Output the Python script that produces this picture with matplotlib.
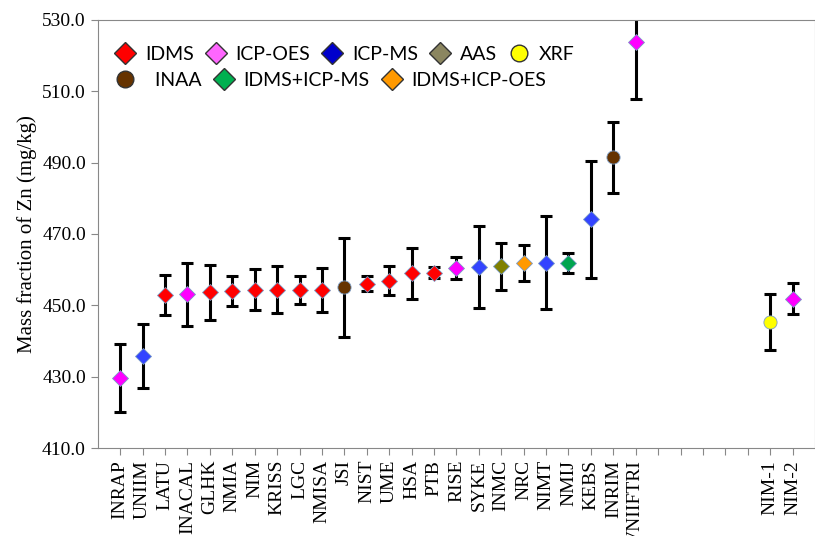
import numpy as np
import matplotlib.pyplot as plt
from matplotlib.lines import Line2D

plt.rcParams['font.family'] = ['Liberation Serif', 'DejaVu Serif']

# categories (blank entries are the empty slots before the NIM results)
labels = ['INRAP', 'UNIIM', 'LATU', 'INACAL', 'GLHK', 'NMIA', 'NIM', 'KRISS', 'LGC',
          'NMISA', 'JSI', 'NIST', 'UME', 'HSA', 'PTB', 'RISE', 'SYKE', 'INMC', 'NRC',
          'NIMT', 'NMIJ', 'KEBS', 'INRIM', 'VNIIFTRI', '', '', '', '', '', 'NIM-1', 'NIM-2']
values = [429.7, 435.9, 452.9, 453.1, 453.6, 454.0, 454.4, 454.4, 454.4,
          454.4, 455.0, 456.1, 456.9, 459.0, 459.2, 460.4, 460.8, 460.9, 461.8,
          461.9, 461.9, 474.1, 491.5, 523.8, np.nan, np.nan, np.nan, np.nan, np.nan, 445.4, 451.9]
uncert = [9.6, 9.0, 5.6, 8.8, 7.8, 4.2, 5.7, 6.6, 3.9,
          6.2, 14.0, 2.0, 4.0, 7.1, 1.6, 3.1, 11.5, 6.5, 5.0,
          13.0, 2.9, 16.3, 10.0, 15.9, np.nan, np.nan, np.nan, np.nan, np.nan, 7.8, 4.4]
methods = ['ICP-OES', 'ICP-MS', 'IDMS', 'ICP-OES', 'IDMS', 'IDMS', 'IDMS', 'IDMS', 'IDMS',
           'IDMS', 'INAA', 'IDMS', 'IDMS', 'IDMS', 'IDMS', 'ICP-OES', 'ICP-MS', 'AAS', 'IDMS+ICP-OES',
           'ICP-MS', 'IDMS+ICP-MS', 'ICP-MS', 'INAA', 'ICP-OES', '', '', '', '', '', 'XRF', 'ICP-OES']

# method -> (marker, plot colour, legend colour)
styles = {
    'IDMS': ('D', '#FF0000', '#FF0000'),
    'ICP-OES': ('D', '#FF00FF', '#FF66FF'),
    'ICP-MS': ('D', '#3344FF', '#0000CC'),
    'AAS': ('D', '#808000', '#8B8660'),
    'XRF': ('o', '#FFFF00', '#FFFF00'),
    'INAA': ('o', '#663300', '#663300'),
    'IDMS+ICP-MS': ('D', '#00A550', '#00B050'),
    'IDMS+ICP-OES': ('D', '#FF9900', '#FF9900'),
}

fig, ax = plt.subplots(figsize=(8.15, 5.36), dpi=100)
fig.subplots_adjust(left=0.12, right=1.0, top=0.963, bottom=0.164)

x = np.arange(1, len(labels) + 1)
for xi, v, u, m in zip(x, values, uncert, methods):
    if not m:
        continue
    mk, col, _ = styles[m]
    ax.errorbar(xi, v, yerr=u, fmt='none', ecolor='black', elinewidth=2.2,
                capsize=4, capthick=2.2, zorder=2)
    ax.plot(xi, v, marker=mk, color=col, markersize=9.5 if mk == 'o' else 7.8,
            markeredgecolor='#7a9cc6', markeredgewidth=0.6, linestyle='none', zorder=3)

ax.set_xlim(0, 32)
ax.set_ylim(410, 530)
ax.set_yticks(np.arange(410, 531, 20))
ax.set_yticklabels(['%.1f' % t for t in np.arange(410, 531, 20)], fontsize=14)
ax.set_xticks(x)
ax.set_xticklabels(labels, rotation=90, fontsize=14)
ax.tick_params(axis='both', color='#888888', length=5)
ax.set_ylabel('Mass fraction of Zn (mg/kg)', fontsize=15)
for s in ax.spines.values():
    s.set_color('#888888')

def handle(m):
    mk, _, lc = styles[m]
    return Line2D([], [], marker=mk, color=lc, markeredgecolor='#333333',
                  markeredgewidth=1.0, markersize=12 if mk == 'o' else 11, linestyle='none')

row1 = ['IDMS', 'ICP-OES', 'ICP-MS', 'AAS', 'XRF']
row2 = ['INAA', 'IDMS+ICP-MS', 'IDMS+ICP-OES']
leg_font = {'family': 'Lato', 'size': 14}
leg1 = ax.legend([handle(m) for m in row1], row1, ncol=5, frameon=False,
                 loc='upper left', bbox_to_anchor=(-0.005, 0.98), handlelength=1.4,
                 handletextpad=0.3, columnspacing=0.45, prop=leg_font)
ax.add_artist(leg1)
ax.legend([handle(m) for m in row2], ['  ' + row2[0]] + row2[1:], ncol=3, frameon=False,
          loc='upper left', bbox_to_anchor=(-0.005, 0.92), handlelength=1.4,
          handletextpad=0.3, columnspacing=0.45, prop=leg_font)

plt.savefig('out.png', dpi=100)
